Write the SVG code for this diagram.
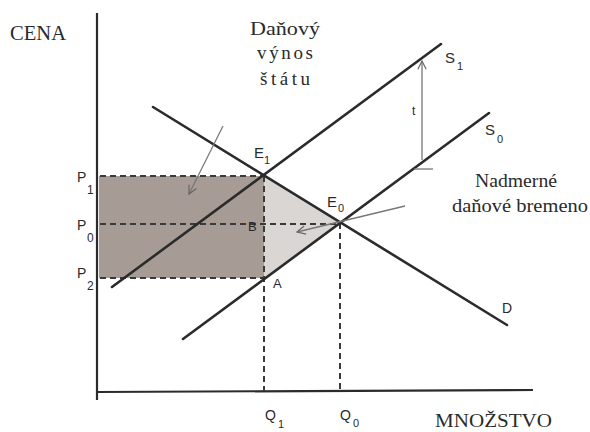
<svg xmlns="http://www.w3.org/2000/svg" width="590" height="432" viewBox="0 0 590 432">
<defs>
<style>
.ax{stroke:#2b2b2b;stroke-width:2.2;fill:none}
.ln{stroke:#2b2b2b;stroke-width:2.6;fill:none;stroke-linecap:round}
.dash{stroke:#3a3a3a;stroke-width:2;stroke-dasharray:6 4;fill:none}
.thin{stroke:#777;stroke-width:1.3;fill:none}
.serif{font-family:"Liberation Serif","DejaVu Serif",serif;fill:#2a2a2a}
.sans{font-family:"Liberation Sans","DejaVu Sans",sans-serif;fill:#2a2a2a}
</style>
<marker id="ah" viewBox="0 0 12 12" refX="11" refY="6" markerWidth="10" markerHeight="10" orient="auto" markerUnits="userSpaceOnUse">
<path d="M1,1 L11,6 L1,11" fill="none" stroke="#666" stroke-width="1.4"/>
</marker>
</defs>
<rect width="590" height="432" fill="#ffffff"/>
<g id="areas">
<rect x="99" y="176" width="165" height="102" fill="#a79c95"/>
<polygon points="264,176 340,223 264,279" fill="#dad6d4"/>
</g>
<g id="axes">
<line class="ax" x1="97" y1="13" x2="97" y2="400"/>
<line class="ax" x1="97" y1="392" x2="533" y2="390"/>
</g>
<g id="connectors">
<line class="dash" x1="100" y1="176" x2="264" y2="176"/>
<line class="dash" x1="100" y1="224" x2="340" y2="224"/>
<line class="dash" x1="100" y1="278" x2="264" y2="278"/>
<line class="dash" x1="264" y1="176" x2="264" y2="391"/>
<line class="dash" x1="340" y1="223" x2="340" y2="391"/>
<line class="ln" x1="153" y1="107" x2="507" y2="325"/>
<line class="ln" x1="112" y1="287" x2="441" y2="44"/>
<line class="ln" x1="183" y1="339" x2="489" y2="113"/>
<line class="thin" x1="422" y1="160" x2="422" y2="61" marker-end="url(#ah)"/>
<line class="thin" x1="414" y1="169" x2="433" y2="169" stroke="#aaa"/>
<line class="thin" x1="223" y1="126" x2="189" y2="194" marker-end="url(#ah)"/>
<line class="thin" x1="405" y1="206" x2="297" y2="232" marker-end="url(#ah)"/>
</g>
<g id="labels">
<text class="serif" x="10" y="40" font-size="21" textLength="56" lengthAdjust="spacingAndGlyphs">CENA</text>
<text class="serif" x="285" y="35" font-size="19" text-anchor="middle" textLength="70" lengthAdjust="spacingAndGlyphs">Daňový</text>
<text class="serif" x="285" y="59" font-size="19" text-anchor="middle" textLength="56" lengthAdjust="spacing">výnos</text>
<text class="serif" x="285" y="85" font-size="19" text-anchor="middle" textLength="50" lengthAdjust="spacing">štátu</text>
<text class="serif" x="516" y="187" font-size="19" text-anchor="middle" textLength="82" lengthAdjust="spacingAndGlyphs">Nadmerné</text>
<text class="serif" x="520" y="212" font-size="19" text-anchor="middle" textLength="136" lengthAdjust="spacingAndGlyphs">daňové bremeno</text>
<text class="serif" x="435" y="427" font-size="19" textLength="117" lengthAdjust="spacingAndGlyphs">MNOŽSTVO</text>
<text class="sans" x="254" y="158" font-size="15">E</text>
<text class="sans" x="264" y="164" font-size="11">1</text>
<text class="sans" x="327" y="207" font-size="15">E</text>
<text class="sans" x="338" y="212" font-size="11">0</text>
<text class="sans" x="445" y="63" font-size="15">S</text>
<text class="sans" x="457" y="70" font-size="11">1</text>
<text class="sans" x="485" y="135" font-size="15">S</text>
<text class="sans" x="497" y="143" font-size="11">0</text>
<text class="sans" x="77" y="182" font-size="14">P</text>
<text class="sans" x="87" y="194" font-size="12">1</text>
<text class="sans" x="77" y="230" font-size="14">P</text>
<text class="sans" x="87" y="242" font-size="12">0</text>
<text class="sans" x="77" y="278" font-size="14">P</text>
<text class="sans" x="87" y="290" font-size="12">2</text>
<text class="sans" x="248" y="231" font-size="13">B</text>
<text class="sans" x="273" y="288" font-size="13">A</text>
<text class="sans" x="265" y="420" font-size="14">Q</text>
<text class="sans" x="278" y="428" font-size="11">1</text>
<text class="sans" x="340" y="420" font-size="14">Q</text>
<text class="sans" x="353" y="427" font-size="11">0</text>
<text class="sans" x="502" y="313" font-size="14">D</text>
<text class="sans" x="412" y="115" font-size="12">t</text>
</g>
</svg>
